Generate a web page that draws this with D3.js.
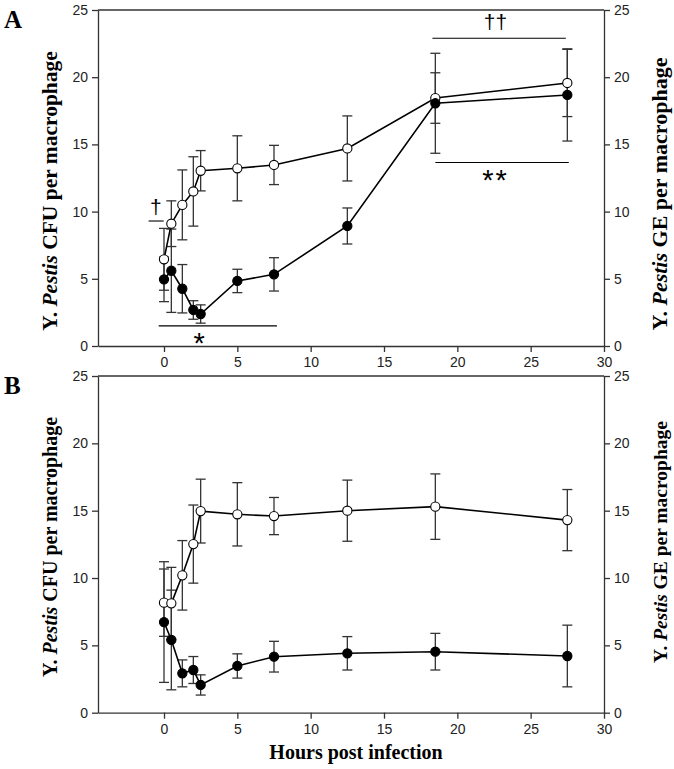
<!DOCTYPE html>
<html><head><meta charset="utf-8">
<script src="https://cdn.jsdelivr.net/npm/d3@7"></script>
<style>body{margin:0;background:#fff}svg{display:block}</style>
</head><body>
<svg id="c" width="674" height="769"></svg>
<script>
const hours = [0, 0.5, 1.25, 2, 2.5, 5, 7.5, 12.5, 18.5, 27.5];
const xTicks = [0, 5, 10, 15, 20, 25, 30];
const yTicks = [0, 5, 10, 15, 20, 25];

const aOpen = [6.45, 9.1, 10.5, 11.5, 13.04, 13.22, 13.47, 14.7, 18.45, 19.57];
const aOpenErr = [2.3, 1.7, 2.6, 2.58, 1.5, 2.42, 1.46, 2.42, 1.88, 2.5];
const aFilled = [4.96, 5.6, 4.26, 2.68, 2.38, 4.84, 5.33, 8.93, 18.06, 18.68];
const aFilledErr = [1.66, 3.1, 1.8, 0.69, 0.68, 0.87, 1.24, 1.34, 3.72, 3.43];

const bOpen = [8.17, 8.12, 10.2, 12.52, 14.97, 14.73, 14.6, 15.0, 15.3, 14.3];
const bOpenErr = [2.5, 2.67, 2.58, 2.9, 2.37, 2.35, 1.38, 2.27, 2.43, 2.27];
const bFilled = [6.73, 5.4, 2.92, 3.17, 2.06, 3.47, 4.16, 4.41, 4.53, 4.21];
const bFilledErr = [4.48, 3.7, 1.0, 1.0, 0.75, 0.9, 1.14, 1.24, 1.36, 2.29];

// significance annotations for panel A
const aMarks = [
  {x1: -1.05, x2: -0.02, y: 9.3, sym: "†", lx: -0.55, ly: 9.8},
  {x1: -0.36, x2: 7.7, y: 1.5, sym: "*", lx: 2.4, ly: -0.55},
  {x1: 18.3, x2: 27.4, y: 22.9, sym: "††", lx: 22.6, ly: 23.6},
  {x1: 18.5, x2: 27.6, y: 13.65, sym: "**", lx: 22.6, ly: 11.6}
];

const svg = d3.select("#c");
const x = d3.scaleLinear().domain([-4.5, 30]).range([98, 604]);

function panel(top, bottom, open, openErr, filled, filledErr, letter, marks, titles) {
  const y = d3.scaleLinear().domain([0, 25]).range([bottom, top]);
  const g = svg.append("g");
  const axColor = "#333";
  const tickFont = "'Liberation Sans', Arial, sans-serif";

  g.append("line").attr("x1", x.range()[0]).attr("x2", x.range()[1])
    .attr("y1", top).attr("y2", top).attr("stroke", axColor).attr("stroke-width", 1.3);

  const left = g.append("g").attr("transform", `translate(${x.range()[0]},0)`)
    .call(d3.axisLeft(y).tickValues(yTicks).tickSize(6).tickSizeOuter(0).tickPadding(4));
  const right = g.append("g").attr("transform", `translate(${x.range()[1]},0)`)
    .call(d3.axisRight(y).tickValues(yTicks).tickSize(6).tickSizeOuter(0).tickPadding(4));
  const bot = g.append("g").attr("transform", `translate(0,${bottom})`)
    .call(d3.axisBottom(x).tickValues(xTicks).tickSize(6).tickSizeOuter(0).tickPadding(5));
  [left, right, bot].forEach(a => {
    a.selectAll("path,line").attr("stroke", axColor).attr("stroke-width", 1.3);
    a.selectAll("text").attr("font-family", tickFont).attr("font-size", 14).attr("fill", "#222");
  });

  const series = [
    {v: open, e: openErr, fill: "#fff"},
    {v: filled, e: filledErr, fill: "#000"}
  ];
  series.forEach(s => {
    const eg = g.append("g").attr("stroke", "#333").attr("stroke-width", 1.3);
    hours.forEach((h, i) => {
      const cx = x(h), y1 = y(s.v[i] + s.e[i]), y2 = y(s.v[i] - s.e[i]);
      eg.append("line").attr("x1", cx).attr("x2", cx).attr("y1", y1).attr("y2", y2);
      eg.append("line").attr("x1", cx - 5).attr("x2", cx + 5).attr("y1", y1).attr("y2", y1);
      eg.append("line").attr("x1", cx - 5).attr("x2", cx + 5).attr("y1", y2).attr("y2", y2);
    });
  });
  const line = d3.line().x((d, i) => x(hours[i])).y(d => y(d));
  series.forEach(s => {
    g.append("path").datum(s.v).attr("d", line).attr("fill", "none")
      .attr("stroke", "#000").attr("stroke-width", 1.6);
  });
  series.forEach(s => {
    g.selectAll(null).data(s.v).join("circle")
      .attr("cx", (d, i) => x(hours[i])).attr("cy", d => y(d)).attr("r", 4.6)
      .attr("fill", s.fill).attr("stroke", "#000").attr("stroke-width", 1.1);
  });

  (marks || []).forEach(m => {
    g.append("line").attr("x1", x(m.x1)).attr("x2", x(m.x2)).attr("y1", y(m.y)).attr("y2", y(m.y))
      .attr("stroke", "#000").attr("stroke-width", 1.1);
    const isStar = m.sym.indexOf("*") >= 0;
    g.append("text").attr("x", x(m.lx)).attr("y", y(m.ly)).attr("text-anchor", "middle")
      .attr("font-family", tickFont).attr("font-size", isStar ? 29 : 21)
      .attr("letter-spacing", m.sym === "**" ? 2 : 0)
      .attr("fill", "#000").text(m.sym);
  });

  const titleFont = "'Liberation Serif', 'Times New Roman', serif";
  function title(tx, ty, size, label) {
    const t = g.append("text").attr("transform", `translate(${tx},${ty}) rotate(-90)`)
      .attr("text-anchor", "middle").attr("font-family", titleFont).attr("font-size", size)
      .attr("font-weight", "bold").attr("fill", "#000");
    t.append("tspan").text("Y. ");
    t.append("tspan").attr("font-style", "italic").text("Pestis");
    t.append("tspan").text(" " + label + " per macrophage");
  }
  title(57, titles.lc, titles.ls, "CFU");
  title(667, titles.rc, titles.rs, "GE");

  g.append("text").attr("x", 4).attr("y", top + 18).attr("font-family", titleFont)
    .attr("font-size", 25).attr("font-weight", "bold").attr("fill", "#000").text(letter);
  return y;
}

panel(10, 346, aOpen, aOpenErr, aFilled, aFilledErr, "A", aMarks, {lc: 191, ls: 21.5, rc: 194, rs: 22});
panel(376, 712.7, bOpen, bOpenErr, bFilled, bFilledErr, "B", [], {lc: 547, ls: 20, rc: 542, rs: 19.5});

svg.append("text").attr("x", 356).attr("y", 759).attr("text-anchor", "middle")
  .attr("font-family", "'Liberation Serif', 'Times New Roman', serif").attr("font-size", 20)
  .attr("font-weight", "bold").attr("fill", "#000").text("Hours post infection");
</script>
</body></html>
